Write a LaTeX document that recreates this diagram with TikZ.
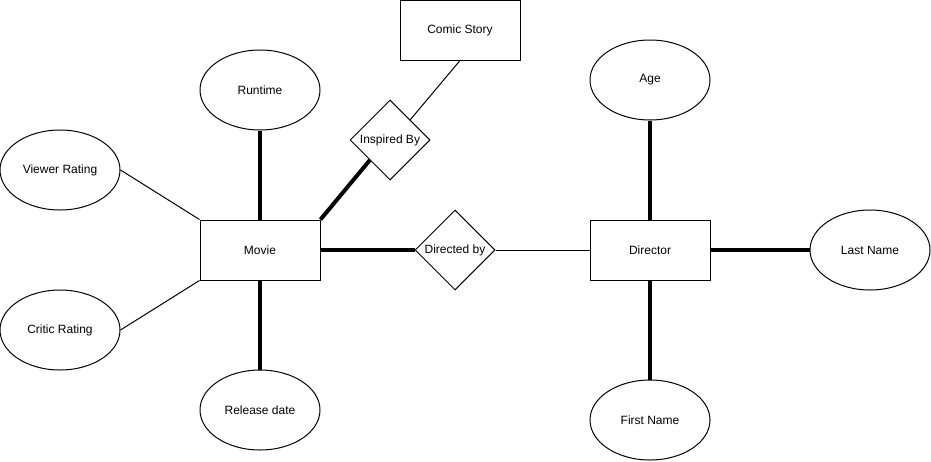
\documentclass[tikz,border=0pt]{standalone}
\usepackage{fontspec}
\setmainfont{Liberation Sans}
\usetikzlibrary{shapes.geometric}

\begin{document}
\begin{tikzpicture}[x=1pt, y=-1pt,
    every node/.style={font=\fontsize{12}{14}\selectfont, line width=1pt, inner sep=0pt},
    entity/.style={draw, rectangle, minimum width=120pt, minimum height=60pt},
    attr/.style={draw, ellipse, minimum width=120pt, minimum height=80pt},
    rel/.style={draw, diamond, minimum width=80pt, minimum height=80pt},
    weak/.style={line width=1pt},
    strong/.style={line width=4pt}]

  \useasboundingbox (0,0) rectangle (931,461);

  % --- entities ---
  \node[entity] (movie)    at (260, 250) {Movie};
  \node[entity] (director) at (650, 250) {Director};
  \node[entity] (comic)    at (460, 30)  {Comic Story};

  % --- relationships ---
  \node[rel] (inspired) at (390, 140) {Inspired By};
  \node[rel] (directed) at (455, 250) {Directed by};

  % --- movie attributes ---
  \node[attr] (runtime) at (260, 90)  {Runtime};
  \node[attr] (viewer)  at (60, 170)  {Viewer Rating};
  \node[attr] (critic)  at (60, 330)  {Critic Rating};
  \node[attr] (release) at (260, 410) {Release date};

  % --- director attributes ---
  \node[attr] (age)   at (650, 80)  {Age};
  \node[attr] (last)  at (870, 250) {Last Name};
  \node[attr] (first) at (650, 420) {First Name};

  % --- links ---
  \draw[strong] (movie.north) -- (runtime.south);
  \draw[weak]   (movie.north west) -- (viewer.east);
  \draw[weak]   (movie.south west) -- (critic.east);
  \draw[strong] (movie.south) -- (release.north);
  \draw[strong] (movie.north east) -- (inspired.south west);
  \draw[weak]   (inspired.north east) -- (comic.south);
  \draw[strong] (movie.east) -- (directed.west);
  \draw[weak]   (directed.east) -- (director.west);
  \draw[strong] (director.north) -- (age.south);
  \draw[strong] (director.east) -- (last.west);
  \draw[strong] (director.south) -- (first.north);

\end{tikzpicture}
\end{document}
